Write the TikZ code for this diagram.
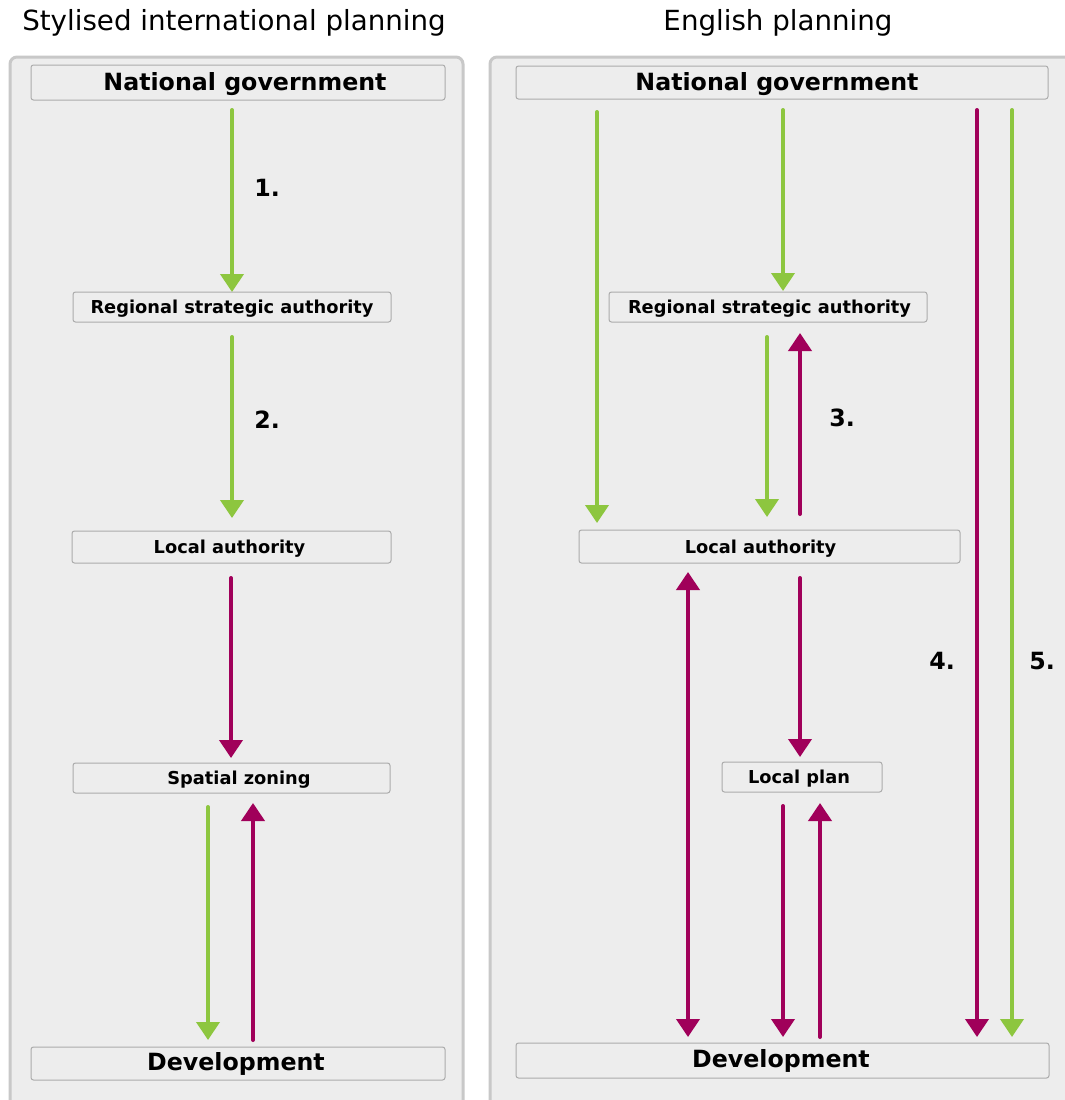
\documentclass[tikz,border=0pt]{standalone}
\usepackage{fontspec}
\setmainfont{DejaVu Sans}
\usetikzlibrary{arrows.meta}
\definecolor{pgreen}{HTML}{8DC63F}
\definecolor{pmag}{HTML}{A0005A}
\definecolor{panelfill}{HTML}{EDEDED}
\definecolor{panelline}{HTML}{C8C8C8}
\definecolor{boxline}{HTML}{ABABAB}
\begin{document}
\begin{tikzpicture}[x=1pt,y=-1pt,
  panel/.style={draw=panelline, line width=3pt, fill=panelfill, rounded corners=7pt},
  box/.style={draw=boxline, line width=1pt, fill=panelfill, rounded corners=2.5pt, inner sep=0pt},
  bigtxt/.style={font=\bfseries\fontsize{23.7}{28}\selectfont, inner sep=0pt, text height=17.3pt, text depth=0pt},
  smalltxt/.style={font=\bfseries\fontsize{17.8}{21}\selectfont, inner sep=0pt, text height=13pt, text depth=0pt},
  numtxt/.style={font=\bfseries\fontsize{23.7}{28}\selectfont, inner sep=0pt, text height=17.3pt, text depth=0pt},
  ttl/.style={font=\fontsize{27.7}{32}\selectfont, inner sep=0pt, text height=20.2pt, text depth=0pt},
  tipshape/.tip={Triangle[width=23pt,length=18pt]},
  garr/.style={draw=pgreen, line width=4pt, line cap=round, -tipshape},
  marr/.style={draw=pmag, line width=4pt, line cap=round, -tipshape},
  mdarr/.style={draw=pmag, line width=4pt, line cap=round, tipshape-tipshape}
]
\clip (0,0) rectangle (1065,1100);
\fill[white] (0,0) rectangle (1065,1100);
\useasboundingbox (0,0) rectangle (1065,1100);

% titles
\node[ttl] (t1) at (234,20) {Stylised international planning};
\node[ttl] (t2) at (778,20) {English planning};

% panels
\draw[panel] (10,57) rectangle (463,1120);
\draw[panel] (490,57) rectangle (1085,1120);

% left boxes
\node[box, minimum width=414pt, minimum height=35pt] (ng1) at (238,82.5) {};
\node[bigtxt] (ng1t) at ([xshift=7pt,yshift=1pt]ng1.center) {National government};
\node[box, minimum width=318pt, minimum height=30pt] (rsa1) at (232,307) {};
\node[smalltxt] (rsa1t) at ([yshift=0.5pt]rsa1.center) {Regional strategic authority};
\node[box, minimum width=319pt, minimum height=32pt] (la1) at (231.5,547) {};
\node[smalltxt] (la1t) at ([xshift=-2pt]la1.center) {Local authority};
\node[box, minimum width=317pt, minimum height=30pt] (sz1) at (231.5,778) {};
\node[smalltxt] (sz1t) at ([xshift=7.5pt]sz1.center) {Spatial zoning};
\node[box, minimum width=414pt, minimum height=33pt] (dev1) at (238,1063.5) {};
\node[bigtxt] (dev1t) at ([xshift=-2pt,yshift=1.5pt]dev1.center) {Development};

% right boxes
\node[box, minimum width=532pt, minimum height=33pt] (ng2) at (782,82.5) {};
\node[bigtxt] (ng2t) at ([xshift=-5pt,yshift=1pt]ng2.center) {National government};
\node[box, minimum width=318pt, minimum height=30pt] (rsa2) at (768,307) {};
\node[smalltxt] (rsa2t) at ([xshift=1.5pt,yshift=0.5pt]rsa2.center) {Regional strategic authority};
\node[box, minimum width=381pt, minimum height=33pt] (la2) at (769.5,546.5) {};
\node[smalltxt] (la2t) at ([xshift=-9pt]la2.center) {Local authority};
\node[box, minimum width=160pt, minimum height=30pt] (lp2) at (802,777) {};
\node[smalltxt] (lp2t) at ([xshift=-3pt]lp2.center) {Local plan};
\node[box, minimum width=533pt, minimum height=35pt] (dev2) at (782.5,1060.5) {};
\node[bigtxt] (dev2t) at ([xshift=-1.5pt,yshift=1.5pt]dev2.center) {Development};

% arrow end points (left)
\coordinate (a1s) at (232,110);  \coordinate (a1e) at (232,292);
\coordinate (a2s) at (232,337);  \coordinate (a2e) at (232,518);
\coordinate (a3s) at (231,578);  \coordinate (a3e) at (231,758);
\coordinate (a4s) at (208,807);  \coordinate (a4e) at (208,1040);
\coordinate (a5s) at (253,1040); \coordinate (a5e) at (253,803);
% arrow end points (right)
\coordinate (b1s) at (597,112);  \coordinate (b1e) at (597,523);
\coordinate (b2s) at (783,110);  \coordinate (b2e) at (783,291);
\coordinate (b3s) at (767,337);  \coordinate (b3e) at (767,517);
\coordinate (b4s) at (800,514);  \coordinate (b4e) at (800,333);
\coordinate (b5s) at (688,572);  \coordinate (b5e) at (688,1037);
\coordinate (b6s) at (800,578);  \coordinate (b6e) at (800,757);
\coordinate (b7s) at (783,806);  \coordinate (b7e) at (783,1037);
\coordinate (b8s) at (820,1037); \coordinate (b8e) at (820,803);
\coordinate (b9s) at (977,110);  \coordinate (b9e) at (977,1037);
\coordinate (b10s) at (1012,110); \coordinate (b10e) at (1012,1037);

% left arrows
\draw[garr] (a1s) -- (a1e);
\draw[garr] (a2s) -- (a2e);
\draw[marr] (a3s) -- (a3e);
\draw[garr] (a4s) -- (a4e);
\draw[marr] (a5s) -- (a5e);
% right arrows
\draw[garr] (b1s) -- (b1e);
\draw[garr] (b2s) -- (b2e);
\draw[garr] (b3s) -- (b3e);
\draw[marr] (b4s) -- (b4e);
\draw[mdarr] (b5s) -- (b5e);
\draw[marr] (b6s) -- (b6e);
\draw[marr] (b7s) -- (b7e);
\draw[marr] (b8s) -- (b8e);
\draw[marr] (b9s) -- (b9e);
\draw[garr] (b10s) -- (b10e);

% numbers
\node[numtxt] (n1) at (267,188) {1.};
\node[numtxt] (n2) at (267,420) {2.};
\node[numtxt] (n3) at (842,418) {3.};
\node[numtxt] (n4) at (942,661) {4.};
\node[numtxt] (n5) at (1042,661) {5.};
\end{tikzpicture}
\end{document}
